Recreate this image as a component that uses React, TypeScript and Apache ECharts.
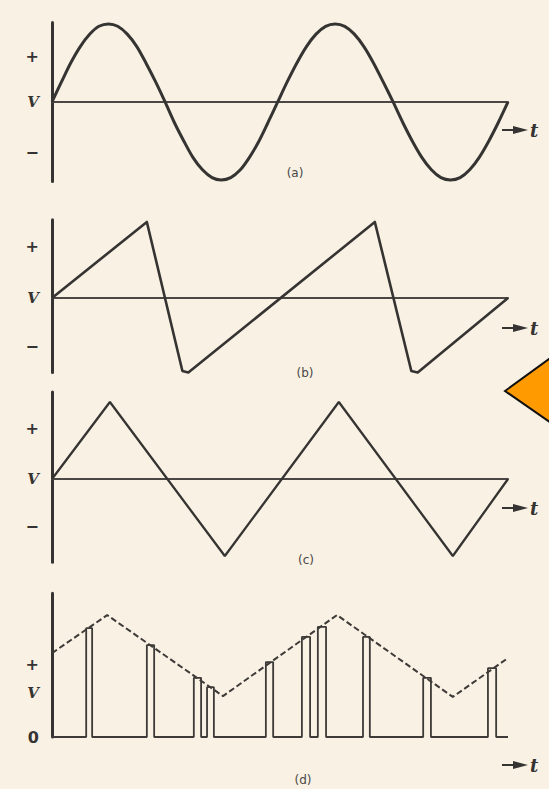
import React, { useEffect, useRef } from "react";
import * as echarts from "echarts";

// ---- waveform data (time t runs 0..10, two periods per trace) ----

// (a) sine wave, sampled every 15 degrees
const sineT = [
  0, 0.21, 0.41, 0.62, 0.83, 1.03, 1.24, 1.44, 1.65, 1.86, 2.06, 2.27, 2.48,
  2.68, 2.89, 3.09, 3.3, 3.51, 3.71, 3.92, 4.13, 4.33, 4.54, 4.74, 4.95,
  5.16, 5.37, 5.58, 5.79, 6.0, 6.21, 6.42, 6.63, 6.84, 7.05, 7.26, 7.48,
  7.69, 7.9, 8.11, 8.32, 8.53, 8.74, 8.95, 9.16, 9.37, 9.58, 9.79, 10,
];
const sineV = [
  0, 0.26, 0.5, 0.71, 0.87, 0.97, 1, 0.97, 0.87, 0.71, 0.5, 0.26, 0,
  -0.26, -0.5, -0.71, -0.87, -0.97, -1, -0.97, -0.87, -0.71, -0.5, -0.26, 0,
  0.26, 0.5, 0.71, 0.87, 0.97, 1, 0.97, 0.87, 0.71, 0.5, 0.26, 0,
  -0.26, -0.5, -0.71, -0.87, -0.97, -1, -0.97, -0.87, -0.71, -0.5, -0.26, 0,
];

// (b) sawtooth: slow rise, fast fall
const sawT = [0, 2.08, 2.86, 2.99, 7.08, 7.88, 8.02, 10];
const sawV = [0, 1.0, -0.96, -0.98, 1.0, -0.96, -0.98, 0];

// (c) triangle
const triT = [0, 1.27, 3.79, 6.29, 8.79, 10];
const triV = [0, 1, -1, 1, -1, 0];

// (d) modulating envelope (dashed) and the pulses that sample it
const envT = [0, 1.21, 3.75, 6.25, 8.79, 10];
const envV = [2.07, 3.01, 1.01, 3.01, 0.99, 1.95];
const pulseStart = [0.75, 2.08, 3.11, 3.4, 4.69, 5.48, 5.83, 6.82, 8.14, 9.56];
const pulseEnd = [0.88, 2.24, 3.27, 3.55, 4.85, 5.66, 6.01, 6.97, 8.31, 9.74];
const pulseHeight = [2.69, 2.27, 1.46, 1.23, 1.85, 2.47, 2.72, 2.47, 1.46, 1.7];

// axis marks on the vertical axes
const aTickValues = [0.58, 0, -0.65];
const bTickValues = [0.68, 0, -0.64];
const cTickValues = [0.66, 0, -0.62];
const dTickValues = [1.78, 1.09, 0];
const signLabels = ["+", "V", "\u2212"];
const pulseLabels = ["+", "V", "0"];
const panelNames = ["(a)", "(b)", "(c)", "(d)"];

const INK = "#363432";
const PAPER = "#f8f1e4";

const zip = (t: number[], v: number[]) => t.map((x, i) => [x, v[i]]);

function pulseTrain(): number[][] {
  const pts: number[][] = [[0, 0]];
  pulseStart.forEach((s, i) => {
    const e = pulseEnd[i];
    const h = pulseHeight[i];
    pts.push([s, 0], [s, h], [e, h], [e, 0]);
  });
  pts.push([10, 0]);
  return pts;
}

function labelAxis(values: number[], labels: string[]) {
  return {
    customValues: values,
    margin: 13,
    formatter: (v: number) => {
      let idx = 0;
      let best = Infinity;
      values.forEach((x, i) => {
        const d = Math.abs(x - v);
        if (d < best) {
          best = d;
          idx = i;
        }
      });
      const s = labels[idx];
      return s === "V" ? `{v|${s}}` : `{s|${s}}`;
    },
    rich: {
      v: {
        fontFamily: "DejaVu Serif",
        fontStyle: "italic",
        fontWeight: "bold",
        fontSize: 15,
        color: INK,
      },
      s: {
        fontFamily: "DejaVu Sans",
        fontWeight: "bold",
        fontSize: 16,
        color: INK,
      },
    },
  };
}

export default function App() {
  const ref = useRef<HTMLDivElement>(null);

  useEffect(() => {
    if (!ref.current) return;
    const chart = echarts.init(ref.current, undefined, { renderer: "svg" });

    const grids = [
      { left: 52, width: 456, top: 22.4, height: 159.1 },
      { left: 52, width: 456, top: 219.7, height: 152.8 },
      { left: 52, width: 456, top: 392, height: 170.2 },
      { left: 52, width: 456, top: 593.2, height: 143.8 },
    ];
    const yRanges = [
      [-1.02, 1.02],
      [-0.98, 1.03],
      [-1.08, 1.13],
      [0, 3.55],
    ];
    const tickSets = [
      [aTickValues, signLabels],
      [bTickValues, signLabels],
      [cTickValues, signLabels],
      [dTickValues, pulseLabels],
    ];

    const xAxis = grids.map((_, i) => ({
      type: "value",
      gridIndex: i,
      min: 0,
      max: 10,
      axisLine: {
        show: i < 3,
        onZero: true,
        lineStyle: { color: "#4a4744", width: 2 },
      },
      axisTick: { show: false },
      axisLabel: { show: false },
      splitLine: { show: false },
    }));

    const yAxis = grids.map((_, i) => ({
      type: "value",
      gridIndex: i,
      min: yRanges[i][0],
      max: yRanges[i][1],
      axisLine: { show: true, onZero: false, lineStyle: { color: INK, width: 3 } },
      axisTick: { show: false },
      splitLine: { show: false },
      axisLabel: labelAxis(tickSets[i][0] as number[], tickSets[i][1] as string[]),
    }));

    const base = {
      type: "line",
      showSymbol: false,
      clip: false,
      silent: true,
      z: 5,
    };

    const series = [
      {
        ...base,
        name: "sine",
        xAxisIndex: 0,
        yAxisIndex: 0,
        smooth: 0.3,
        data: zip(sineT, sineV),
        lineStyle: { color: INK, width: 3 },
      },
      {
        ...base,
        name: "sawtooth",
        xAxisIndex: 1,
        yAxisIndex: 1,
        data: zip(sawT, sawV),
        lineStyle: { color: INK, width: 2.6, join: "round" },
      },
      {
        ...base,
        name: "triangle",
        xAxisIndex: 2,
        yAxisIndex: 2,
        data: zip(triT, triV),
        lineStyle: { color: INK, width: 2.3 },
      },
      {
        ...base,
        name: "envelope",
        xAxisIndex: 3,
        yAxisIndex: 3,
        data: zip(envT, envV),
        lineStyle: { color: "#3d3a37", width: 2, type: [6, 3] },
      },
      {
        ...base,
        name: "pulses",
        xAxisIndex: 3,
        yAxisIndex: 3,
        data: pulseTrain(),
        lineStyle: { color: "#3d3a37", width: 1.8 },
      },
    ];

    // "→ t" time-direction marker next to each trace
    const arrowY = [130, 328, 508, 765];
    const arrows = arrowY.map((y) => ({
      type: "group",
      children: [
        {
          type: "line",
          shape: { x1: 502, y1: y, x2: 517, y2: y },
          style: { stroke: INK, lineWidth: 2 },
        },
        {
          type: "polygon",
          shape: { points: [[513, y - 4], [528, y], [513, y + 4]] },
          style: { fill: INK },
        },
        {
          type: "text",
          x: 530,
          y: y,
          style: {
            text: "t",
            font: "italic bold 18px 'DejaVu Serif'",
            fill: INK,
            verticalAlign: "middle",
          },
        },
      ],
    }));

    const namePos = [
      [295, 173],
      [305, 373],
      [306, 560],
      [303, 780],
    ];
    const names = panelNames.map((n, i) => ({
      type: "text",
      x: namePos[i][0],
      y: namePos[i][1],
      style: {
        text: n,
        font: "12px 'DejaVu Sans'",
        fill: "#4a4744",
        align: "center",
        verticalAlign: "middle",
      },
    }));

    const pointer = {
      type: "polygon",
      z: 100,
      shape: { points: [[505, 391], [600, 322], [600, 457]] },
      style: { fill: "#ff9a00", stroke: "#111111", lineWidth: 2 },
    };

    chart.setOption({
      animation: false,
      backgroundColor: PAPER,
      grid: grids,
      xAxis,
      yAxis,
      series,
      graphic: [...arrows, ...names, pointer],
    });

    return () => chart.dispose();
  }, []);

  return (
    <div
      ref={ref}
      style={{ position: "fixed", left: 0, top: 0, width: 549, height: 789 }}
    />
  );
}
